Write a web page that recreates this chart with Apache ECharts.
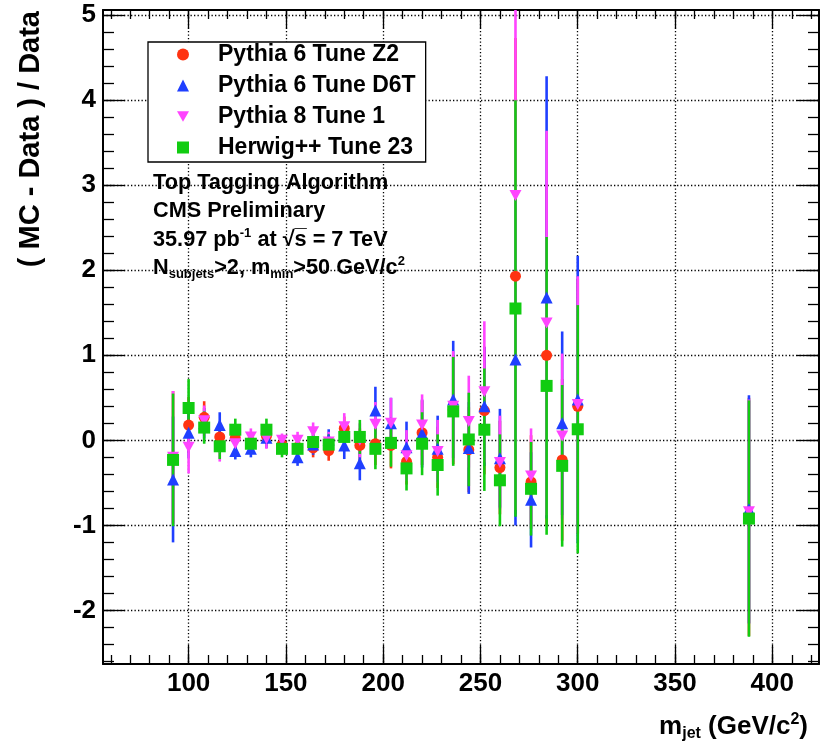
<!DOCTYPE html>
<html>
<head>
<meta charset="utf-8">
<script src="https://cdn.jsdelivr.net/npm/echarts@6/dist/echarts.min.js"></script>
<style>
  html, body { margin: 0; padding: 0; background: #fff; }
  #chart { width: 820px; height: 746px; }
</style>
</head>
<body>
<div id="chart"></div>
<script>
// Jet mass bin centres (GeV/c^2)
const massBins = [92, 100, 108, 116, 124, 132, 140, 148, 156, 164, 172, 180, 188, 196,
                  204, 212, 220, 228, 236, 244, 252, 260, 268, 276, 284, 292, 300, 388];

// (MC - Data) / Data per generator, with the size of the vertical error bar
const z2Values = [-0.20, 0.18, 0.27, 0.04, 0.03, -0.02, 0.05, -0.05, -0.08, -0.09, -0.12, 0.14, -0.06, -0.04,
                  -0.06, -0.25, 0.09, -0.20, 0.36, -0.11, 0.35, -0.32, 1.93, -0.49, 1.00, -0.23, 0.40, -0.90];
const z2Errors = [0.78, 0.33, 0.19, 0.15, 0.13, 0.10, 0.12, 0.10, 0.10, 0.11, 0.12, 0.14, 0.20, 0.25,
                  0.27, 0.27, 0.38, 0.36, 0.64, 0.50, 0.75, 0.55, 2.80, 0.55, 2.00, 0.95, 1.50, 1.40];

const d6tValues = [-0.46, 0.09, 0.20, 0.18, -0.125, -0.10, 0.03, -0.05, -0.20, -0.05, 0.01, -0.06, -0.27, 0.35,
                   0.20, -0.08, 0.08, -0.10, 0.48, -0.09, 0.40, -0.21, 0.95, -0.70, 1.68, 0.20, 0.48, -0.81];
const d6tErrors = [0.74, 0.30, 0.18, 0.15, 0.10, 0.10, 0.12, 0.10, 0.10, 0.12, 0.12, 0.16, 0.20, 0.28,
                   0.30, 0.30, 0.40, 0.39, 0.69, 0.54, 0.70, 0.58, 1.95, 0.56, 2.60, 1.08, 1.69, 1.34];

const p8Values = [-0.20, -0.08, 0.23, -0.08, -0.04, 0.04, 0.02, 0.00, 0.00, 0.10, -0.02, 0.16, 0.00, 0.19,
                  0.20, -0.18, 0.18, -0.13, 0.40, 0.22, 0.57, -0.26, 2.88, -0.42, 1.38, 0.05, 0.42, -0.84];
const p8Errors = [0.78, 0.31, 0.18, 0.17, 0.12, 0.10, 0.12, 0.08, 0.10, 0.11, 0.12, 0.16, 0.20, 0.26,
                  0.30, 0.30, 0.36, 0.37, 0.65, 0.54, 0.83, 0.55, 3.70, 0.56, 2.26, 0.97, 1.51, 1.32];

const herwigValues = [-0.23, 0.38, 0.15, -0.07, 0.125, -0.04, 0.125, -0.10, -0.10, -0.02, -0.05, 0.04, 0.04, -0.10,
                      -0.03, -0.33, -0.04, -0.29, 0.34, 0.01, 0.125, -0.47, 1.55, -0.57, 0.64, -0.30, 0.13, -0.92];
const herwigErrors = [0.78, 0.34, 0.19, 0.15, 0.13, 0.10, 0.13, 0.10, 0.10, 0.12, 0.12, 0.14, 0.20, 0.24,
                      0.28, 0.26, 0.37, 0.36, 0.64, 0.55, 0.72, 0.54, 2.45, 0.55, 1.75, 0.95, 1.46, 1.39];

// Axis ticks
const xMajorTicks = [100, 150, 200, 250, 300, 350, 400];
const yMajorTicks = [-2, -1, 0, 1, 2, 3, 4, 5];
const xMinorTicks = [];
for (let v = 60; v <= 420; v += 10) xMinorTicks.push(v);
const yMinorTicks = [];
for (let v = -26; v <= 50; v += 2) yMinorTicks.push(+(v / 10).toFixed(1));

const X_MIN = 56, X_MAX = 424, Y_MIN = -2.63, Y_MAX = 5.06;
const FONT = '"Liberation Sans", Arial, Helvetica, sans-serif';

const generators = [
  { name: 'Pythia 6 Tune Z2',  values: z2Values,     errors: z2Errors,     color: '#ff3311', symbol: 'circle',   size: 11 },
  { name: 'Pythia 6 Tune D6T', values: d6tValues,    errors: d6tErrors,    color: '#1f3fff', symbol: 'triangle', size: 12 },
  { name: 'Pythia 8 Tune 1',   values: p8Values,     errors: p8Errors,     color: '#ff44ff', symbol: 'path://M0,0 L10,0 L5,8.66 Z', size: [12, 11] },
  { name: 'Herwig++ Tune 23',  values: herwigValues, errors: herwigErrors, color: '#11cc11', symbol: 'rect',     size: 12 }
];

const series = [];
generators.forEach(function (g) {
  const points = massBins.map(function (m, i) { return [m, g.values[i], g.errors[i]]; });
  // vertical error bars
  series.push({
    type: 'custom',
    name: g.name + ' errors',
    clip: true,
    silent: true,
    data: points,
    renderItem: function (params, api) {
      const x = api.value(0), y = api.value(1), e = api.value(2);
      const lo = api.coord([x, y - e]);
      const hi = api.coord([x, y + e]);
      return {
        type: 'line',
        shape: { x1: lo[0], y1: lo[1], x2: hi[0], y2: hi[1] },
        style: { stroke: g.color, lineWidth: 2.6 }
      };
    }
  });
  // central values
  series.push({
    type: 'scatter',
    name: g.name,
    data: points.map(function (p) { return [p[0], p[1]]; }),
    symbol: g.symbol,
    symbolSize: g.size,
    itemStyle: { color: g.color, opacity: 1 },
    clip: true,
    silent: true
  });
});

const dotted = { color: '#000', width: 1.3, type: [1.3, 2.2] };
const frame = { show: true, onZero: false, lineStyle: { color: '#000', width: 2 } };
const noLine = { show: false, onZero: false };
const labelFont = { fontFamily: FONT, fontWeight: 'bold', fontSize: 26, color: '#000' };

function xAxis(position, ticks, len, withLabels, withLine, withSplit) {
  return {
    type: 'value', min: X_MIN, max: X_MAX, position: position, offset: 0,
    axisLine: withLine ? frame : noLine,
    axisTick: { show: true, inside: true, length: len, customValues: ticks, lineStyle: { color: '#000', width: 1.3 } },
    axisLabel: withLabels ? Object.assign({ show: true, customValues: ticks, margin: 7 }, labelFont) : { show: false },
    splitLine: withSplit ? { show: true, lineStyle: dotted } : { show: false },
    minorTick: { show: false }
  };
}
function yAxis(position, ticks, len, withLabels, withLine, withSplit) {
  return {
    type: 'value', min: Y_MIN, max: Y_MAX, position: position, offset: 0,
    axisLine: withLine ? frame : noLine,
    axisTick: { show: true, inside: true, length: len, customValues: ticks, lineStyle: { color: '#000', width: 1.3 } },
    axisLabel: withLabels ? Object.assign({ show: true, customValues: ticks, margin: 7 }, labelFont) : { show: false },
    splitLine: withSplit ? { show: true, lineStyle: dotted } : { show: false },
    minorTick: { show: false }
  };
}

const chart = echarts.init(document.getElementById('chart'), null, { renderer: 'canvas' });
chart.setOption({
  animation: false,
  backgroundColor: '#fff',
  grid: { left: 103, top: 10, right: 1, bottom: 82, containLabel: false },
  xAxis: [
    xAxis('bottom', xMajorTicks, 19, true, true, true),
    xAxis('bottom', xMinorTicks, 9, false, false, false),
    xAxis('top', xMajorTicks, 19, false, true, false),
    xAxis('top', xMinorTicks, 9, false, false, false)
  ],
  yAxis: [
    yAxis('left', yMajorTicks, 22, true, true, true),
    yAxis('left', yMinorTicks, 11, false, false, false),
    yAxis('right', yMajorTicks, 22, false, true, false),
    yAxis('right', yMinorTicks, 11, false, false, false)
  ],
  legend: {
    orient: 'vertical',
    left: 148, top: 42,
    padding: [1, 10, 3, 29],
    itemGap: 8,
    itemWidth: 12, itemHeight: 12,
    backgroundColor: '#fff',
    borderColor: '#000', borderWidth: 1.3,
    selectedMode: false,
    textStyle: { fontFamily: FONT, fontWeight: 'bold', fontSize: 23, color: '#000', lineHeight: 22, padding: [0, 0, 0, 24] },
    data: generators.map(function (g) { return { name: g.name, icon: g.symbol }; })
  },
  series: series,
  graphic: [
    {
      type: 'text', x: 31, y: 11, rotation: Math.PI / 2,
      style: { text: '( MC - Data ) / Data', font: 'bold 29px ' + FONT, fill: '#000', align: 'right', verticalAlign: 'middle' }
    },
    {
      type: 'text', x: 808, y: 727,
      style: {
        text: '{m|m}{s|jet}{m| (GeV/c}{p|2}{m|)}',
        align: 'right', verticalAlign: 'middle',
        rich: {
          m: { font: 'bold 26px ' + FONT, fill: '#000', lineHeight: 30 },
          s: { font: 'bold 16px ' + FONT, fill: '#000', lineHeight: 16, padding: [14, 0, 0, 0], verticalAlign: 'top' },
          p: { font: 'bold 16px ' + FONT, fill: '#000', lineHeight: 16, padding: [0, 0, 12, 0], verticalAlign: 'top' }
        }
      }
    },
    {
      type: 'text', x: 153, y: 183,
      style: { text: 'Top Tagging Algorithm', font: 'bold 21.7px ' + FONT, fill: '#000', verticalAlign: 'middle' }
    },
    {
      type: 'text', x: 153, y: 211,
      style: { text: 'CMS Preliminary', font: 'bold 21.7px ' + FONT, fill: '#000', verticalAlign: 'middle' }
    },
    {
      type: 'text', x: 153, y: 240,
      style: {
        text: '{m|35.97 pb}{p|-1}{m| at }{m|\u221As̅ = 7 TeV}',
        verticalAlign: 'middle',
        rich: {
          m: { font: 'bold 21.7px ' + FONT, fill: '#000', lineHeight: 26 },
          p: { font: 'bold 13px ' + FONT, fill: '#000', lineHeight: 13, padding: [0, 0, 12, 0], verticalAlign: 'top' }
        }
      }
    },
    {
      type: 'text', x: 153, y: 268,
      style: {
        text: '{m|N}{s|subjets}{m|>2, m}{s|min}{m|>50 GeV/c}{p|2}',
        verticalAlign: 'middle',
        rich: {
          m: { font: 'bold 21.7px ' + FONT, fill: '#000', lineHeight: 26 },
          s: { font: 'bold 13px ' + FONT, fill: '#000', lineHeight: 13, padding: [13, 0, 0, 0], verticalAlign: 'top' },
          p: { font: 'bold 13px ' + FONT, fill: '#000', lineHeight: 13, padding: [0, 0, 12, 0], verticalAlign: 'top' }
        }
      }
    }
  ]
});
</script>
</body>
</html>
